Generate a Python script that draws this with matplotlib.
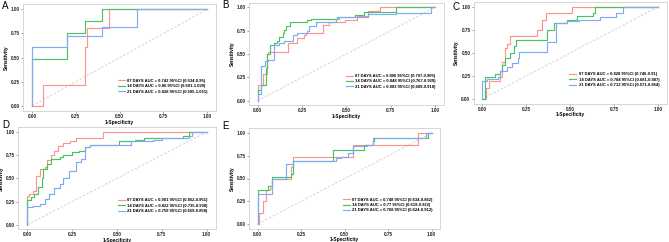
import matplotlib
matplotlib.use("Agg")
import matplotlib.pyplot as plt

plt.rcParams["font.family"] = ["Liberation Sans", "DejaVu Sans"]

# ROC corner points (fpr, tpr); drawn as post-steps
a07_fpr = [0, 0.0625, 0.30, 0.3125, 0.4375, 1]
a07_tpr = [0, 0.22, 0.61, 0.81, 1.0, 1]
a14_fpr = [0, 0, 0.2, 0.3, 0.4, 1]
a14_tpr = [0, 0.49, 0.75, 0.88, 1.0, 1]
a21_fpr = [0, 0, 0.2, 0.4, 0.6, 1]
a21_tpr = [0, 0.61, 0.72, 0.82, 1.0, 1]

b07_fpr = [0, 0, 0.03, 0.055, 0.06, 0.17, 0.22, 0.26, 0.27, 0.37, 0.40, 0.49, 0.56, 0.62, 0.69, 1]
b07_tpr = [0, 0.17, 0.29, 0.50, 0.52, 0.62, 0.67, 0.70, 0.72, 0.81, 0.84, 0.86, 0.91, 0.96, 1.0, 1]
b14_fpr = [0, 0, 0.02, 0.045, 0.055, 0.07, 0.09, 0.11, 0.12, 0.14, 0.15, 0.16, 0.18, 0.28, 0.30,
           0.45, 0.55, 0.60, 0.78, 1]
b14_tpr = [0, 0.11, 0.17, 0.35, 0.50, 0.60, 0.62, 0.64, 0.68, 0.72, 0.76, 0.80, 0.84, 0.86, 0.88,
           0.90, 0.92, 0.95, 1.0, 1]
b21_fpr = [0, 0, 0.02, 0.04, 0.06, 0.09, 0.12, 0.15, 0.20, 0.22, 0.28, 0.29, 0.33, 0.44, 0.46,
           0.62, 0.78, 0.98, 1]
b21_tpr = [0, 0.07, 0.37, 0.42, 0.44, 0.60, 0.62, 0.64, 0.70, 0.73, 0.75, 0.80, 0.84, 0.87, 0.90,
           0.93, 0.94, 1.0, 1]

c07_fpr = [0, 0.02, 0.04, 0.10, 0.11, 0.13, 0.14, 0.16, 0.31, 0.34, 0.36, 0.51, 1]
c07_tpr = [0, 0.12, 0.20, 0.24, 0.40, 0.55, 0.60, 0.68, 0.75, 0.86, 0.93, 1.0, 1]
c14_fpr = [0, 0.015, 0.07, 0.10, 0.11, 0.13, 0.16, 0.18, 0.19, 0.37, 0.41, 0.48, 0.54, 0.63, 0.64, 1]
c14_tpr = [0, 0.24, 0.27, 0.30, 0.37, 0.44, 0.50, 0.57, 0.64, 0.75, 0.82, 0.86, 0.90, 0.93, 1.0, 1]
c21_fpr = [0, 0, 0.025, 0.09, 0.10, 0.14, 0.17, 0.20, 0.21, 0.37, 0.42, 0.48, 0.55, 0.67, 0.76, 0.80, 1]
c21_tpr = [0, 0.20, 0.22, 0.24, 0.30, 0.35, 0.39, 0.44, 0.51, 0.62, 0.82, 0.84, 0.86, 0.89, 0.93, 1.0, 1]

d07_fpr = [0, 0, 0.01, 0.03, 0.05, 0.05, 0.07, 0.10, 0.11, 0.13, 0.15, 0.17, 0.20, 0.24, 0.27, 0.42, 1]
d07_tpr = [0, 0.31, 0.33, 0.36, 0.42, 0.53, 0.60, 0.62, 0.70, 0.75, 0.80, 0.85, 0.88, 0.90, 0.93, 1.0, 1]
d14_fpr = [0, 0, 0.02, 0.04, 0.06, 0.08, 0.09, 0.11, 0.13, 0.18, 0.20, 0.25, 0.29, 0.32, 0.35,
           0.51, 0.60, 0.65, 0.87, 0.90, 1]
d14_tpr = [0, 0.27, 0.30, 0.33, 0.41, 0.50, 0.60, 0.66, 0.71, 0.73, 0.75, 0.78, 0.80, 0.84, 0.86,
           0.90, 0.91, 0.93, 0.96, 1.0, 1]
d21_fpr = [0, 0, 0.03, 0.07, 0.10, 0.12, 0.15, 0.18, 0.20, 0.23, 0.27, 0.30, 0.32, 0.35, 0.58,
           0.70, 0.75, 0.90, 0.92, 1]
d21_tpr = [0, 0.19, 0.20, 0.22, 0.28, 0.33, 0.40, 0.44, 0.50, 0.58, 0.68, 0.71, 0.84, 0.86, 0.90,
           0.91, 0.93, 0.96, 1.0, 1]

e07_fpr = [0, 0.01, 0.03, 0.05, 0.07, 0.08, 0.19, 0.20, 0.55, 0.92, 1]
e07_tpr = [0, 0.12, 0.25, 0.37, 0.40, 0.50, 0.63, 0.74, 0.87, 1.0, 1]
e14_fpr = [0, 0, 0.06, 0.08, 0.19, 0.20, 0.43, 0.61, 0.66, 0.67, 0.98, 1]
e14_tpr = [0, 0.37, 0.42, 0.52, 0.55, 0.69, 0.81, 0.87, 0.91, 0.95, 1.0, 1]
e21_fpr = [0, 0, 0.08, 0.16, 0.20, 0.45, 0.48, 0.52, 0.55, 0.63, 0.66, 0.97, 1]
e21_tpr = [0, 0.33, 0.50, 0.66, 0.69, 0.72, 0.74, 0.78, 0.86, 0.87, 0.95, 1.0, 1]

panel_letters = ["A", "B", "C", "D", "E"]
legend_a = ["07 DAYS AUC = 0.742 95%CI (0.534-0.95)",
            "14 DAYS AUC = 0.86 95%CI (0.691-1.029)",
            "21 DAYS AUC = 0.828 95%CI (0.595-1.061)"]
legend_b = ["07 DAYS AUC = 0.806 95%CI (0.707-0.905)",
            "14 DAYS AUC = 0.848 95%CI (0.767-0.929)",
            "21 DAYS AUC = 0.803 95%CI (0.689-0.918)"]
legend_c = ["07 DAYS AUC = 0.828 95%CI (0.746-0.91)",
            "14 DAYS AUC = 0.784 95%CI (0.681-0.887)",
            "21 DAYS AUC = 0.712 95%CI (0.571-0.854)"]
legend_d = ["07 DAYS AUC = 0.901 95%CI (0.852-0.951)",
            "14 DAYS AUC = 0.822 95%CI (0.735-0.908)",
            "21 DAYS AUC = 0.759 95%CI (0.659-0.858)"]
legend_e = ["07 DAYS AUC = 0.748 95%CI (0.634-0.862)",
            "14 DAYS AUC = 0.77 95%CI (0.619-0.922)",
            "21 DAYS AUC = 0.768 95%CI (0.624-0.912)"]
tick_vals = [0.0, 0.25, 0.5, 0.75, 1.0]
tick_labels = ["0.00", "0.25", "0.50", "0.75", "1.00"]

colors = ["#F7968C", "#45C45F", "#80AAF6"]

panels = [
    ([(a07_fpr, a07_tpr), (a14_fpr, a14_tpr), (a21_fpr, a21_tpr)], legend_a),
    ([(b07_fpr, b07_tpr), (b14_fpr, b14_tpr), (b21_fpr, b21_tpr)], legend_b),
    ([(c07_fpr, c07_tpr), (c14_fpr, c14_tpr), (c21_fpr, c21_tpr)], legend_c),
    ([(d07_fpr, d07_tpr), (d14_fpr, d14_tpr), (d21_fpr, d21_tpr)], legend_d),
    ([(e07_fpr, e07_tpr), (e14_fpr, e14_tpr), (e21_fpr, e21_tpr)], legend_e),
]

W, H = 669, 242
# pixel anchors of data x=0, x=1, y=1, y=0 for each panel
anchors = [
    (32.0, 207.0, 9.3, 106.0),
    (257.7, 435.0, 7.3, 100.7),
    (482.3, 658.3, 6.7, 99.0),
    (27.3, 206.7, 132.0, 224.7),
    (257.7, 431.7, 133.0, 224.0),
]
letter_pos = [(2, 1), (222, 0), (453, 2), (2, 120), (222, 121)]

fig = plt.figure(figsize=(W / 100, H / 100), dpi=100)

for (curves, labels), (x0, x1, y1, y0), letter, lp in zip(panels, anchors, panel_letters, letter_pos):
    dx = x1 - x0
    dy = y0 - y1
    left = (x0 - 0.05 * dx) / W
    bottom = 1 - (y0 + 0.05 * dy) / H
    ax = fig.add_axes([left, bottom, 1.1 * dx / W, 1.1 * dy / H])
    ax.plot([0, 1], [0, 1], color="#CCCCCC", lw=0.6, ls=(0, (3, 2)))
    for (fpr, tpr), col, lab in zip(curves, colors, labels):
        ax.plot(fpr, tpr, drawstyle="steps-post", color=col, lw=0.85, label=lab)
    ax.set_xlim(-0.05, 1.05)
    ax.set_ylim(-0.05, 1.05)
    ax.set_xticks(tick_vals)
    ax.set_xticklabels(tick_labels)
    ax.set_yticks(tick_vals)
    ax.set_yticklabels(tick_labels)
    ax.tick_params(labelsize=3.3, length=1.2, width=0.4, pad=1, color="#555555", labelcolor="#222222")
    for t in ax.get_xticklabels() + ax.get_yticklabels():
        t.set_fontweight("bold")
    for s in ax.spines.values():
        s.set_color("#D0D0D0")
        s.set_linewidth(0.6)
    ax.set_xlabel("1-Specificity", fontsize=3.5, fontweight="bold", labelpad=0.5)
    ax.set_ylabel("Sensitivity", fontsize=3.5, fontweight="bold", labelpad=1.5)
    ax.legend(loc="lower right", bbox_to_anchor=(0.97, 0.14), frameon=False,
              prop={"size": 3, "weight": "bold"}, handlelength=1.6, handletextpad=0.6,
              labelspacing=0.35, borderpad=0)
    fig.text(lp[0] / W, 1 - lp[1] / H, letter, fontsize=7, ha="left", va="top")

fig.savefig("out.png", dpi=100)
